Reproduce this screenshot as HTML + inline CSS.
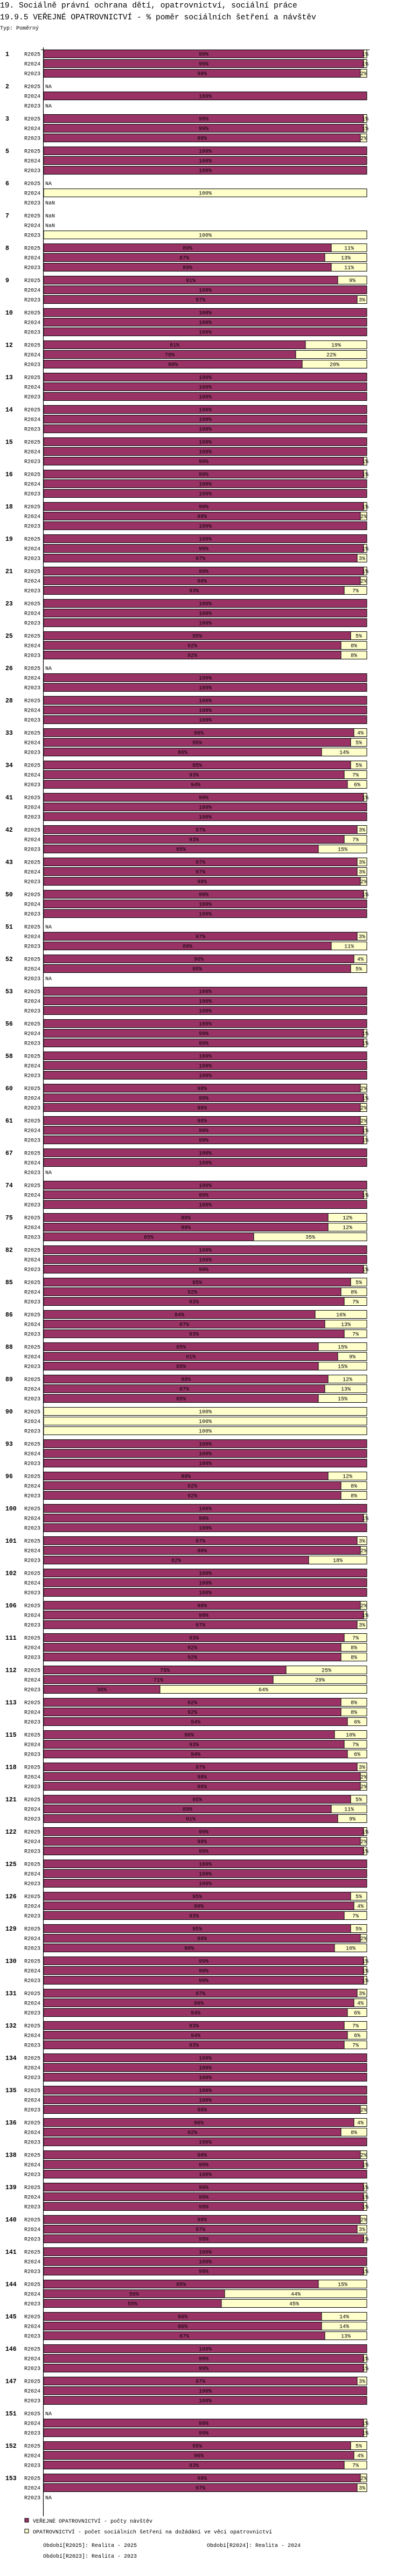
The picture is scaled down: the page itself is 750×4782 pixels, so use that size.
<!DOCTYPE html>
<html><head><meta charset="utf-8">
<style>
html,body{margin:0;padding:0;background:#fff;}
svg{display:block;}
text{font-family:"Liberation Mono","DejaVu Sans Mono",monospace;fill:#000;}
</style></head>
<body>
<svg id="chart" width="750" height="4782" viewBox="0 0 750 4782" xmlns="http://www.w3.org/2000/svg">
<text x="0" y="14" font-size="14.6">19. Sociálně právní ochrana dětí, opatrovnictví, sociální práce</text>
<text x="0" y="36" font-size="14.6">19.9.5 VEŘEJNÉ OPATROVNICTVÍ - % poměr sociálních šetření a návštěv</text>
<text x="0" y="55" font-size="10">Typ: Poměrný</text>
<g id="plot"></g>
<g>
<rect x="46" y="4675" width="7" height="7" fill="#993366" stroke="#000" stroke-width="1"/>
<text x="61" y="4683" font-size="10">VEŘEJNÉ OPATROVNICTVÍ - počty návštěv</text>
<rect x="46" y="4695" width="7" height="7" fill="#FFFFCC" stroke="#000" stroke-width="1"/>
<text x="61" y="4703" font-size="10">OPATROVNICTVÍ - počet sociálních šetření na dožádání ve věci opatrovnictví</text>
<text x="80" y="4728" font-size="10">Období[R2025]: Realita - 2025</text>
<text x="384" y="4728" font-size="10">Období[R2024]: Realita - 2024</text>
<text x="80" y="4748" font-size="10">Období[R2023]: Realita - 2023</text>
</g>
</svg>
<script>
// categories
var groups = [1,2,3,5,6,7,8,9,10,12,13,14,15,16,18,19,21,23,25,26,28,33,34,41,42,43,50,51,52,53,56,58,60,61,67,74,75,82,85,86,88,89,90,93,96,100,101,102,106,111,112,113,115,118,121,122,125,126,129,130,131,132,134,135,136,138,139,140,141,144,145,146,147,151,152,153];
var periods = ["R2025","R2024","R2023"];
// share of visits (purple) in %, "NA"/"NaN" = missing; surveys share = 100 - value
var visits2025 = [99,"NA",99,100,"NA","NaN",89,91,100,81,100,100,100,99,99,100,99,100,95,"NA",100,96,95,99,97,97,99,"NA",96,100,100,100,98,98,100,100,88,100,95,84,85,88,0,100,88,100,97,100,98,93,75,92,90,97,95,99,100,95,95,99,97,93,100,100,96,98,99,98,100,85,86,100,97,"NA",95,98];
var visits2024 = [99,100,99,100,0,"NaN",87,100,100,78,100,100,100,100,98,99,98,100,92,100,100,95,93,100,93,97,100,97,95,100,99,100,99,99,100,99,88,100,92,87,91,87,0,100,92,99,98,100,99,92,71,92,93,98,89,98,100,96,98,99,96,94,100,100,92,99,99,97,100,56,86,99,100,99,96,97];
var visits2023 = [98,"NA",98,100,"NaN",0,89,97,100,80,100,100,99,100,100,97,93,100,92,100,100,86,94,100,85,98,100,89,"NA",100,99,100,98,99,"NA",100,65,99,93,93,85,85,0,100,92,100,82,100,97,92,36,94,94,98,91,99,100,93,90,99,94,93,100,98,100,100,99,99,99,55,87,99,100,99,93,"NA"];
var series = [visits2025, visits2024, visits2023];

var NS = "http://www.w3.org/2000/svg";
var plot = document.getElementById("plot");
var X0 = 81, X1 = 681, Y0 = 100, GROUP = 60, ROW = 18, BAR = 15;
function xScale(v){ return X0 + (X1 - X0) * v / 100; }
function rowY(g, r){ return Y0 + g * GROUP + r * ROW; }
function mk(tag, attrs){ var e = document.createElementNS(NS, tag); for (var k in attrs) e.setAttribute(k, attrs[k]); return e; }

// axes
var axisTop = mk("line", {x1:76, y1:92.5, x2:686, y2:92.5, stroke:"#000", "stroke-width":1});


plot.appendChild(axisTop);
var axisLeft = mk("line", {x1:80.5, y1:88, x2:80.5, y2:rowY(groups.length-1, 2) + 35, stroke:"#000", "stroke-width":1.2});


plot.appendChild(axisLeft);

function seg(x0, x1, cy, fill, val, name){
  var r = mk("rect", {x:x0, y:cy - BAR/2, width:Math.max(0, x1 - x0), height:BAR, fill:fill, stroke:"#000", "stroke-width":1});
  
  
  plot.appendChild(r);
  var t = mk("text", {x:(x0 + x1)/2, y:cy + 3.5, "font-size":10, "text-anchor":"middle"});
  t.textContent = val + "%";
  
  
  plot.appendChild(t);
}

groups.forEach(function(gid, gi){
  var gl = mk("text", {x:10, y:rowY(gi,0) + 4, "font-size":11.5, "font-weight":"bold"});
  gl.textContent = String(gid);
  
  
  plot.appendChild(gl);
  periods.forEach(function(p, ri){
    var cy = rowY(gi, ri);
    var rl = mk("text", {x:75, y:cy + 3.5, "font-size":10, "text-anchor":"end"});
    rl.textContent = p;
    
    
    plot.appendChild(rl);
    var v = series[ri][gi];
    if (typeof v !== "number") {
      var na = mk("text", {x:84, y:cy + 3.5, "font-size":10});
      na.textContent = v;
      
      
      plot.appendChild(na);
      return;
    }
    if (v > 0) seg(xScale(0), xScale(v), cy, "#993366", v, "bar-visits");
    if (v < 100) seg(xScale(v), xScale(100), cy, "#FFFFCC", 100 - v, "bar-surveys");
  });
});
</script>
</body></html>
